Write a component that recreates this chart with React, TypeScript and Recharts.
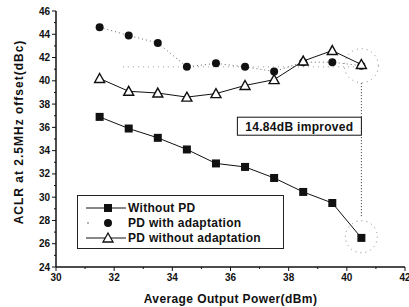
import {
  Line,
  LineChart,
  ReferenceDot,
  ReferenceLine,
  XAxis,
  YAxis,
} from "recharts";

// output power points (dBm)
const power = [31.5, 32.5, 33.5, 34.5, 35.5, 36.5, 37.5, 38.5, 39.5, 40.5];
// ACLR (dBc) per series
const withoutPd = [36.9, 35.9, 35.1, 34.1, 32.9, 32.6, 31.65, 30.45, 29.5, 26.5];
const pdAdapt = [44.6, 43.9, 43.25, 41.2, 41.5, 41.2, 40.8, 41.6, 41.6, 41.3];
const pdNoAdapt = [40.2, 39.1, 38.95, 38.6, 38.9, 39.6, 40.1, 41.7, 42.6, 41.4];

const xTicks = [30, 31, 32, 33, 34, 35, 36, 37, 38, 39, 40, 41, 42];
const yTicks = [24, 25, 26, 27, 28, 29, 30, 31, 32, 33, 34, 35, 36, 37, 38, 39, 40, 41, 42, 43, 44, 45, 46];

const rows = power.map((p, i) => ({
  p,
  a: withoutPd[i],
  b: pdAdapt[i],
  c: pdNoAdapt[i],
}));

const FONT = "'Liberation Sans', Arial, sans-serif";
const INK = "#111";

const XTick = (props: any) => {
  const { x, y, payload } = props;
  const major = payload.value % 2 === 0;
  return (
    <g>
      <line x1={x} x2={x} y1={y} y2={y + (major ? 4 : 2)} stroke={INK} strokeWidth={1} />
      {major && (
        <text x={x} y={y + 14} textAnchor="middle" fontSize={10} fontWeight="bold" fill={INK} fontFamily={FONT}>
          {payload.value}
        </text>
      )}
    </g>
  );
};

const YTick = (props: any) => {
  const { x, y, payload } = props;
  const major = payload.value % 2 === 0;
  return (
    <g>
      <line x1={x - (major ? 4 : 2)} x2={x} y1={y} y2={y} stroke={INK} strokeWidth={1} />
      {major && (
        <text x={x - 6} y={y + 3.5} textAnchor="end" fontSize={10} fontWeight="bold" fill={INK} fontFamily={FONT}>
          {payload.value}
        </text>
      )}
    </g>
  );
};

const Square = (props: any) => {
  const { cx, cy } = props;
  return <rect x={cx - 4} y={cy - 4} width={8} height={8} fill={INK} />;
};

const Dot = (props: any) => {
  const { cx, cy } = props;
  return <circle cx={cx} cy={cy} r={4} fill={INK} />;
};

const Tri = (props: any) => {
  const { cx, cy } = props;
  return (
    <path
      d={`M${cx},${cy - 5} L${cx + 5},${cy + 4} L${cx - 5},${cy + 4} Z`}
      fill="#fff"
      stroke={INK}
      strokeWidth={1.4}
    />
  );
};

const legendItems = [
  { name: "Without PD", kind: "sq" },
  { name: "PD with adaptation", kind: "dot" },
  { name: "PD without adaptation", kind: "tri" },
];

const LegendBox = () => (
  <div
    style={{
      position: "absolute",
      left: 77,
      top: 195,
      border: "1px solid #222",
      width: 205,
      padding: "4px 0 3px 0",
      background: "#fff",
      fontFamily: FONT,
      fontWeight: "bold",
      fontSize: 12,
      letterSpacing: 0.3,
      color: INK,
    }}
  >
    {legendItems.map((it) => (
      <div key={it.name} style={{ display: "flex", alignItems: "center", height: 15 }}>
        <svg width={50} height={14} style={{ flex: "none" }}>
          {it.kind === "dot" ? (
            <>
              <circle cx={10} cy={7} r={0.8} fill="#555" />
              <circle cx={30} cy={7} r={4} fill={INK} />
            </>
          ) : (
            <>
              <line x1={8} x2={48} y1={7} y2={7} stroke={INK} strokeWidth={1} />
              {it.kind === "sq" ? (
                <rect x={26} y={3} width={8} height={8} fill={INK} />
              ) : (
                <path d="M30,2 L35,11 L25,11 Z" fill="#fff" stroke={INK} strokeWidth={1.3} />
              )}
            </>
          )}
        </svg>
        <span>{it.name}</span>
      </div>
    ))}
  </div>
);

const NoteLabel = (props: any) => {
  const { viewBox } = props;
  const x = viewBox.x;
  const y = viewBox.y;
  return (
    <g>
      <rect x={x - 124} y={y - 9} width={124} height={18} fill="#fff" stroke={INK} strokeWidth={1} />
      <text x={x - 62} y={y + 4.5} textAnchor="middle" fontSize={12} fontWeight="bold" fill={INK} fontFamily={FONT} letterSpacing={0.3}>
        14.84dB improved
      </text>
    </g>
  );
};

const YTitle = () => (
  <text
    x={19}
    y={132}
    transform="rotate(-90 19 132)"
    textAnchor="middle"
    dominantBaseline="central"
    fontSize={12}
    fontWeight="bold"
    fill={INK}
    fontFamily={FONT}
    letterSpacing={1}
  >
    ACLR at 2.5MHz offset(dBc)
  </text>
);

export default function App() {
  return (
    <div style={{ position: "absolute", left: 0, top: 0, width: 409, height: 307, background: "#fff" }}>
      <LineChart width={409} height={307} data={rows} margin={{ top: 11, right: 4, bottom: 0, left: 0 }}>
        <XAxis
          dataKey="p"
          type="number"
          domain={[30, 42]}
          ticks={xTicks}
          interval={0}
          tick={<XTick />}
          tickLine={false}
          tickSize={0}
          tickMargin={0}
          axisLine={{ stroke: INK, strokeWidth: 1.5 }}
          height={40}
          label={{
            value: "Average Output Power(dBm)",
            position: "insideBottom",
            offset: 4,
            fontSize: 12,
            fontWeight: "bold",
            fill: INK,
            fontFamily: FONT,
            letterSpacing: 0.4,
          }}
        />
        <XAxis xAxisId="top" orientation="top" type="number" domain={[30, 42]} tick={false} tickLine={false} height={0} axisLine={{ stroke: INK, strokeWidth: 1 }} />
        <YAxis
          type="number"
          domain={[24, 46]}
          ticks={yTicks}
          interval={0}
          tick={<YTick />}
          tickLine={false}
          tickSize={0}
          tickMargin={0}
          axisLine={{ stroke: INK, strokeWidth: 1.5 }}
          width={56}
          label={<YTitle />}
        />
        <YAxis yAxisId="r" orientation="right" type="number" domain={[24, 46]} tick={false} tickLine={false} width={0} axisLine={{ stroke: INK, strokeWidth: 1 }} />
        <ReferenceLine
          segment={[{ x: 32.3, y: 41.2 }, { x: 40.5, y: 41.2 }]}
          stroke="#999"
          strokeDasharray="1 4"
        />
        <ReferenceLine
          segment={[{ x: 40.5, y: 39.8 }, { x: 40.5, y: 28.3 }]}
          stroke="#333"
          strokeDasharray="1 2"
        />
        <ReferenceDot x={40.5} y={41.3} r={17} fill="none" stroke="#888" strokeDasharray="1 4" />
        <ReferenceDot x={40.5} y={26.6} r={16} fill="none" stroke="#888" strokeDasharray="1 4" />
        <ReferenceDot x={40.5} y={36.1} r={0} fill="none" stroke="none" label={<NoteLabel />} />
        <Line dataKey="a" stroke={INK} strokeWidth={1} dot={<Square />} isAnimationActive={false} />
        <Line dataKey="b" stroke="#666" strokeWidth={1} strokeDasharray="1 3" dot={<Dot />} isAnimationActive={false} />
        <Line dataKey="c" stroke={INK} strokeWidth={1} dot={<Tri />} isAnimationActive={false} />
      </LineChart>
      <LegendBox />
    </div>
  );
}
